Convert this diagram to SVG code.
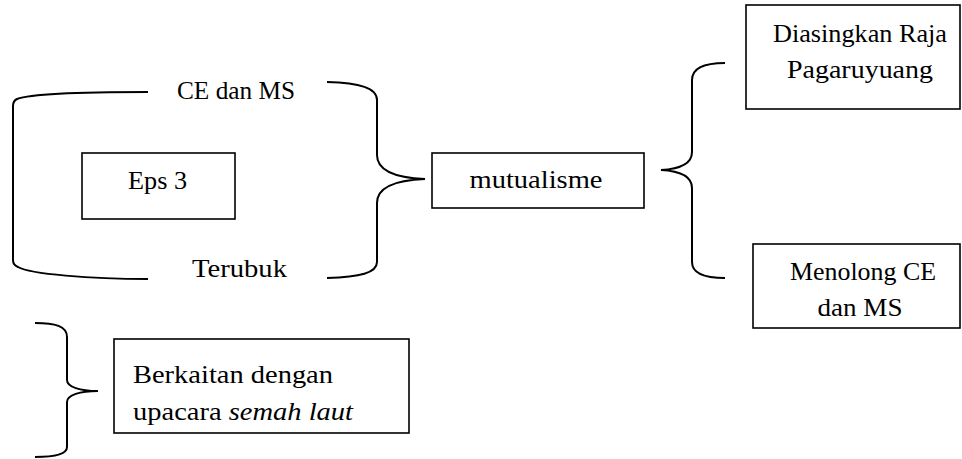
<svg xmlns="http://www.w3.org/2000/svg" width="962" height="459" viewBox="0 0 962 459">
<style>
.box{fill:#fff;stroke:#000;stroke-width:1.6}
.br{fill:none;stroke:#000;stroke-width:2}
text{font-family:"Liberation Serif","Times New Roman",serif;font-size:25.5px;fill:#000}
.c{text-anchor:middle}
</style>
<rect width="962" height="459" fill="#fff"/>
<g id="connectors">
<path class="br" d="M148,92 C90,92 30,94 17,99 Q13,101 13,106 L13,260 Q13,265 18,267 C30,274 90,279 148,279"/>
<path class="br" d="M327,82 C360,83 377,88 377,100 L377,155 C377,172 400,178 425,179 C400,180 377,186 377,203 L377,262 C377,273 360,277 327,278"/>
<path class="br" d="M725,63 C705,63 692,68 692,80 L692,152 C692,164 680,169 661,170 C680,171 692,176 692,188 L692,262 C692,273 705,278 725,278"/>
<path class="br" d="M35,323 C55,323 67,326 67,337 L67,380 C67,387 80,391 98,391 C80,391 67,395 67,402 L67,447 C67,454 55,457 35,457"/>
</g>
<g id="ce-dan-ms">
<text class="c" x="236" y="99" textLength="118" lengthAdjust="spacingAndGlyphs">CE dan MS</text>
</g>
<g id="terubuk">
<text class="c" x="239.5" y="277" textLength="95" lengthAdjust="spacingAndGlyphs">Terubuk</text>
</g>
<g id="eps3">
<rect class="box" x="82" y="153" width="153" height="66"/>
<text class="c" x="157.5" y="189" textLength="59" lengthAdjust="spacingAndGlyphs">Eps 3</text>
</g>
<g id="mutualisme">
<rect class="box" x="432" y="153" width="212" height="55"/>
<text class="c" x="536" y="188" textLength="133" lengthAdjust="spacingAndGlyphs">mutualisme</text>
</g>
<g id="diasingkan">
<rect class="box" x="746" y="5" width="214" height="104"/>
<text class="c" x="860" y="42" textLength="174" lengthAdjust="spacingAndGlyphs">Diasingkan Raja</text>
<text class="c" x="860" y="78" textLength="146" lengthAdjust="spacingAndGlyphs">Pagaruyuang</text>
</g>
<g id="menolong">
<rect class="box" x="753" y="244" width="207" height="84"/>
<text class="c" x="863" y="280" textLength="146" lengthAdjust="spacingAndGlyphs">Menolong CE</text>
<text class="c" x="860" y="316" textLength="85" lengthAdjust="spacingAndGlyphs">dan MS</text>
</g>
<g id="berkaitan">
<rect class="box" x="114" y="339" width="295" height="94"/>
<text x="133" y="383" textLength="200" lengthAdjust="spacingAndGlyphs">Berkaitan dengan</text>
<text x="133" y="420" textLength="220" lengthAdjust="spacingAndGlyphs">upacara <tspan font-style="italic">semah laut</tspan></text>
</g>
</svg>
